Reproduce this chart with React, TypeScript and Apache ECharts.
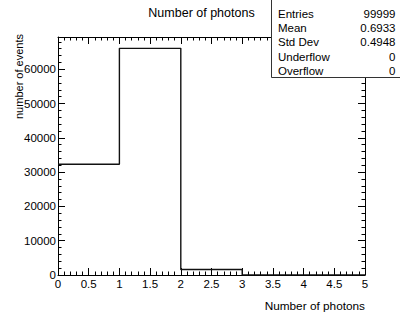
import React, { useEffect, useRef } from "react";
import * as echarts from "echarts";

const binEdges = [0, 1, 2, 3, 4, 5];
const counts = [32281, 66107, 1611, 0, 0];
const yMax = 69412;
const xMajor = 0.5;
const yMajor = 10000;
const yMinor = 2000;
const statLabels = ["Entries", "Mean", "Std Dev", "Underflow", "Overflow"];
const statValues = ["99999", "0.6933", "0.4948", "0", "0"];
const titleText = "Number of photons";
const xTitle = "Number of photons";
const yTitle = "number of events";

const FONT = "'Liberation Sans', Arial, Helvetica, sans-serif";

export default function App() {
  const ref = useRef<HTMLDivElement>(null);
  useEffect(() => {
    if (!ref.current) return;
    const chart = echarts.init(ref.current, undefined, { renderer: "svg" });
    const stepData = binEdges.map((e, i) => [e, counts[Math.min(i, counts.length - 1)]]);
    const tickStyle = { color: "#000", width: 1 };
    const xAxisBase = (pos: string, labels: boolean) => ({
      type: "value",
      min: 0,
      max: 5,
      interval: xMajor,
      position: pos,
      axisLine: { show: true, onZero: false, lineStyle: { color: "#000", width: 1 } },
      axisTick: { show: true, inside: true, length: 7, lineStyle: tickStyle },
      minorTick: { show: true, splitNumber: 5, length: 3.5, lineStyle: tickStyle },
      splitLine: { show: false },
      minorSplitLine: { show: false },
      axisLabel: {
        show: labels,
        margin: 3,
        fontSize: 11.5,
        color: "#000",
        fontFamily: FONT,
        formatter: (v: number) => String(v),
      },
    });
    const yAxisBase = (pos: string, interval: number, len: number, line: boolean, labels: boolean) => ({
      type: "value",
      min: 0,
      max: yMax,
      interval,
      position: pos,
      offset: 0,
      axisLine: { show: line, onZero: false, lineStyle: { color: "#000", width: 1 } },
      axisTick: { show: true, inside: true, length: len, lineStyle: tickStyle },
      splitLine: { show: false },
      axisLabel: {
        show: labels,
        margin: 2,
        fontSize: 11.5,
        color: "#000",
        fontFamily: FONT,
        showMaxLabel: false,
        formatter: (v: number) => String(v),
      },
    });
    const stats: any[] = [
      {
        type: "rect",
        shape: { x: 271.5, y: -1, width: 140, height: 78.5 },
        style: { fill: "#fff", stroke: "#333", lineWidth: 1 },
        z: 100,
      },
    ];
    statLabels.forEach((l, i) => {
      const y = 14 + i * 14.2;
      stats.push({
        type: "text",
        x: 278,
        y,
        z: 101,
        style: { text: l, fontSize: 11.5, fontFamily: FONT, fill: "#000", textAlign: "left", textVerticalAlign: "middle" },
      });
      stats.push({
        type: "text",
        x: 395.5,
        y,
        z: 101,
        style: { text: statValues[i], fontSize: 11.5, fontFamily: FONT, fill: "#000", textAlign: "right", textVerticalAlign: "middle" },
      });
    });
    chart.setOption({
      animation: false,
      backgroundColor: "#fff",
      grid: { left: 58, right: 35, top: 37, bottom: 37, containLabel: false },
      xAxis: [xAxisBase("bottom", true), xAxisBase("top", false)],
      yAxis: [
        yAxisBase("left", yMajor, 7, true, true),
        yAxisBase("left", yMinor, 3.5, false, false),
        yAxisBase("right", yMajor, 7, true, false),
        yAxisBase("right", yMinor, 3.5, false, false),
      ],
      series: [
        {
          type: "line",
          xAxisIndex: 0,
          yAxisIndex: 0,
          step: "end",
          data: stepData,
          symbol: "none",
          lineStyle: { color: "#111", width: 1.4 },
          z: 5,
        },
      ],
      graphic: [
        {
          type: "text",
          x: 201.5,
          y: 13,
          style: { text: titleText, fontSize: 12.5, fontFamily: FONT, fill: "#000", textAlign: "center", textVerticalAlign: "middle" },
        },
        {
          type: "text",
          x: 365,
          y: 306,
          style: { text: xTitle, fontSize: 11.8, fontFamily: FONT, fill: "#000", textAlign: "right", textVerticalAlign: "middle" },
        },
        {
          type: "text",
          x: 18.5,
          y: 34,
          rotation: Math.PI / 2,
          style: { text: yTitle, fontSize: 11, fontFamily: FONT, fill: "#000", textAlign: "right", textVerticalAlign: "middle" },
        },
        ...stats,
      ],
    });
    return () => chart.dispose();
  }, []);
  return <div ref={ref} style={{ position: "fixed", left: 0, top: 0, width: 400, height: 312 }} />;
}
